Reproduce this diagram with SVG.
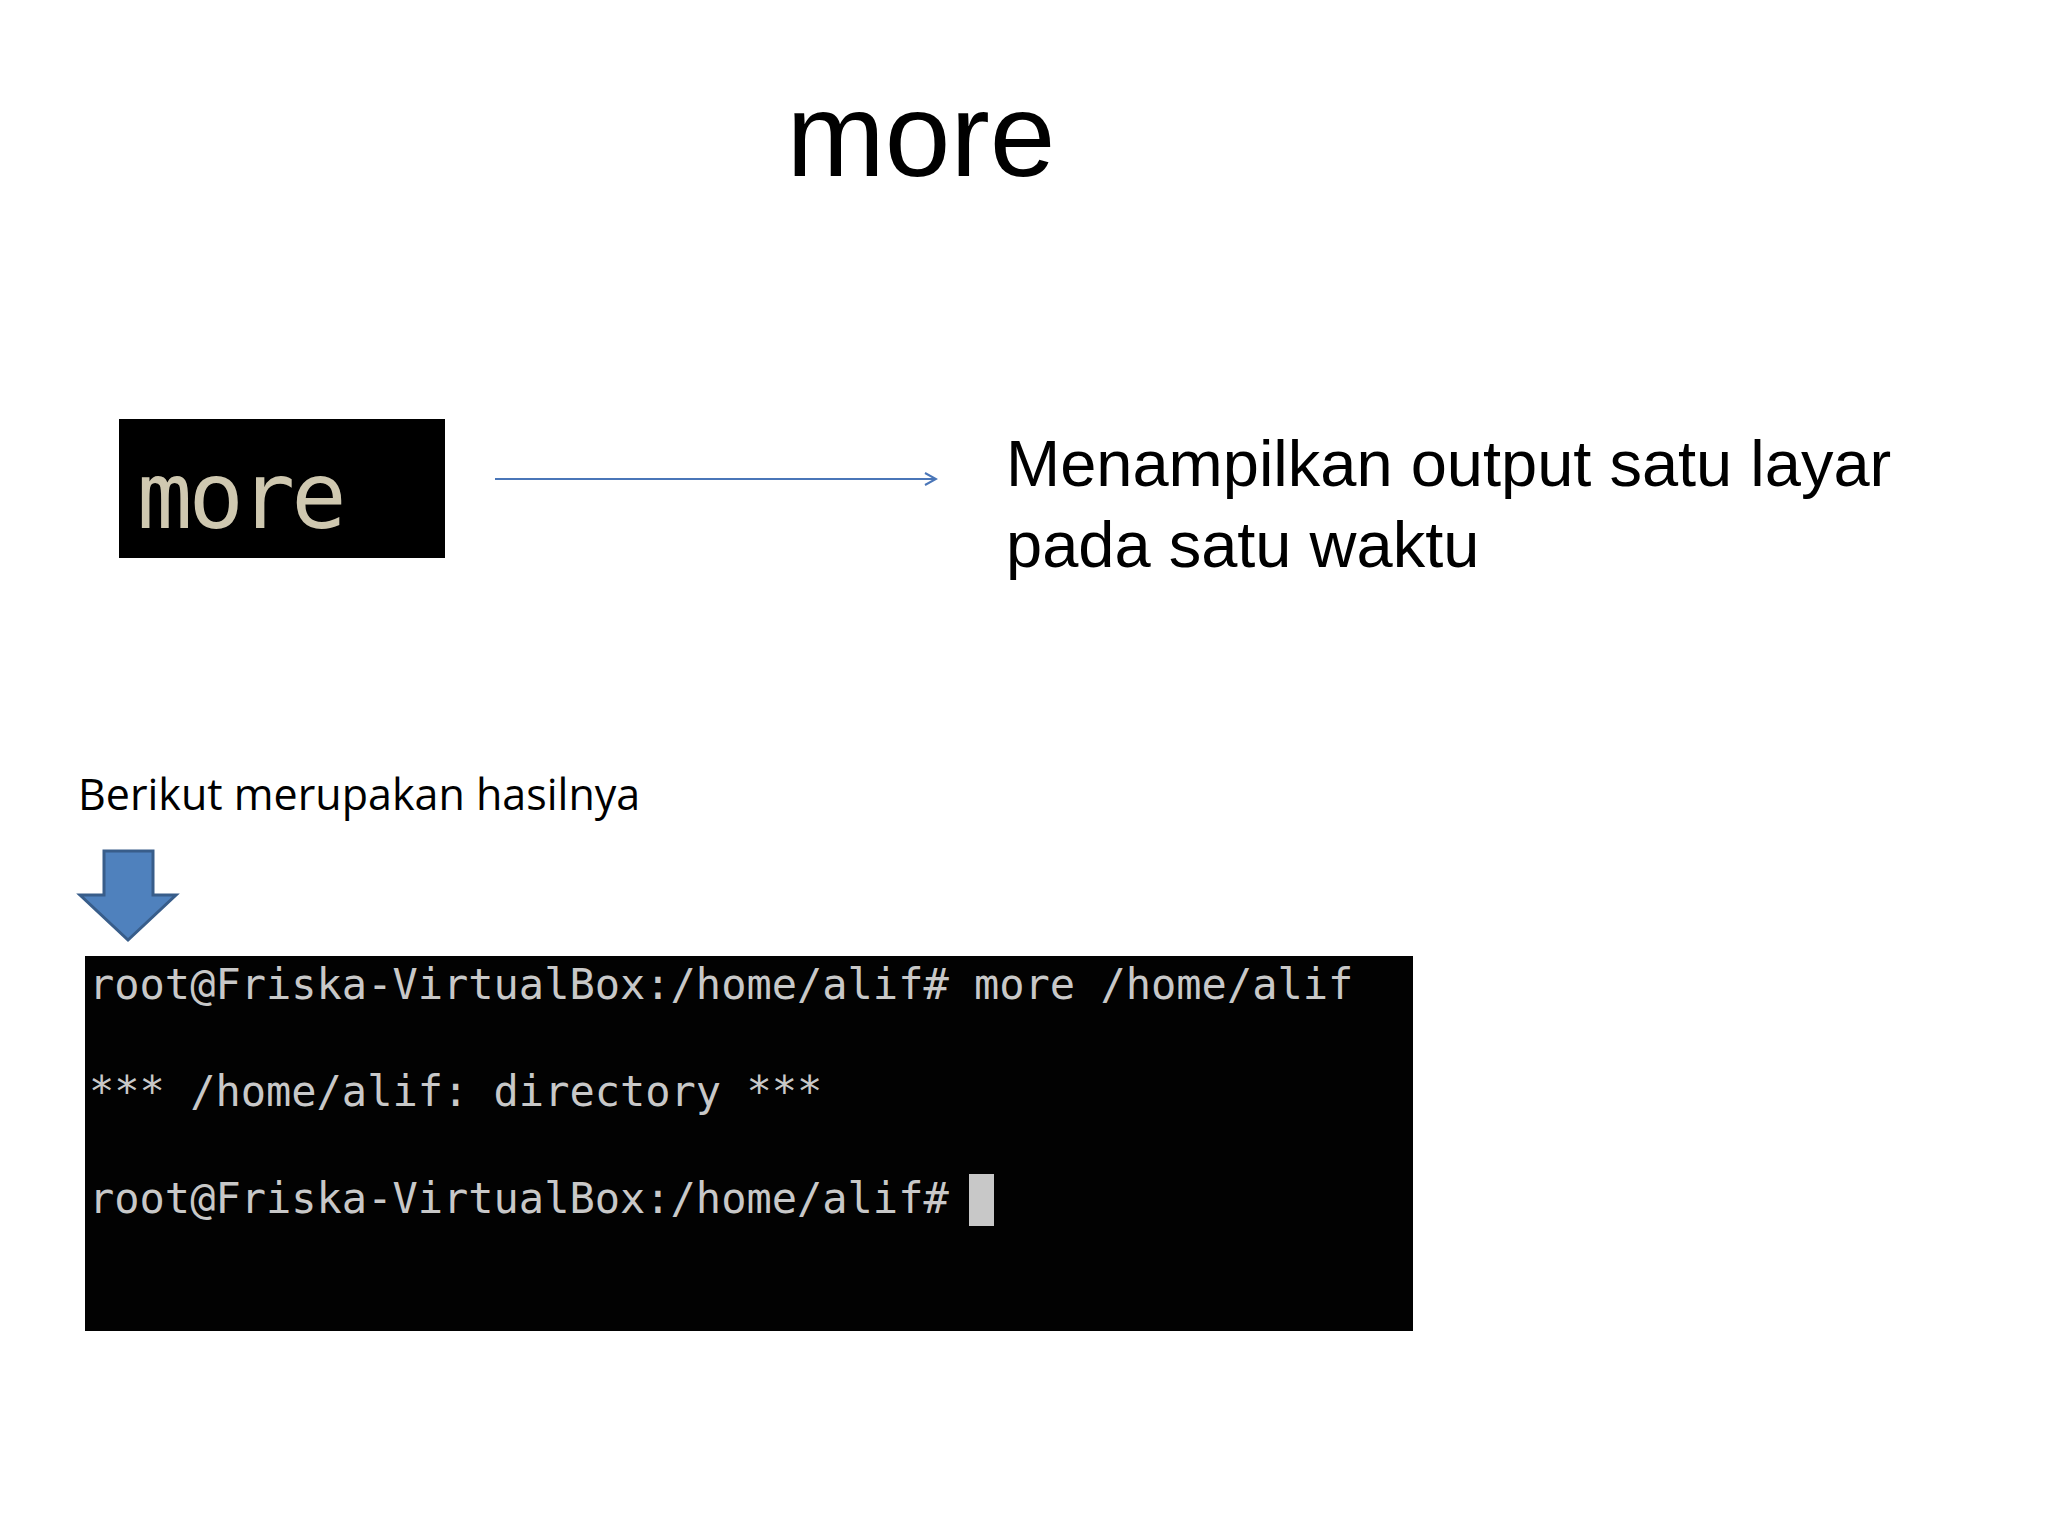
<svg xmlns="http://www.w3.org/2000/svg" width="2048" height="1536" viewBox="0 0 2048 1536">
<defs>
<style>
.sans{font-family:"Liberation Sans",Arial,sans-serif;fill:#000}
.term{font-family:"DejaVu Sans Mono","Liberation Mono",monospace;font-size:42px;fill:#c8c8c8}
</style>
<marker id="ah" markerWidth="14" markerHeight="14" refX="12" refY="7" orient="auto" markerUnits="userSpaceOnUse">
<path d="M1,1 L12,7 L1,13" fill="none" stroke="#4a76b8" stroke-width="2"/>
</marker>
</defs>
<rect width="2048" height="1536" fill="#fff"/>
<text class="sans" x="921" y="176" font-size="118" text-anchor="middle">more</text>
<g id="cmd">
<rect x="119" y="419" width="326" height="139" fill="#000"/>
<text x="137" y="528" font-family="DejaVu Sans Mono,monospace" font-size="92" fill="#cfc8b0" letter-spacing="-4">more</text>
</g>
<g id="desc">
<text class="sans" x="1006" y="486" font-size="65">Menampilkan output satu layar</text>
<text class="sans" x="1006" y="567" font-size="65">pada satu waktu</text>
</g>
<g id="connectors">
<line x1="495" y1="479" x2="936" y2="479" stroke="#4a76b8" stroke-width="2" marker-end="url(#ah)"/>
</g>
<g id="label">
<text x="78" y="810" font-family="Open Sans,sans-serif" font-size="43" fill="#000">Berikut merupakan hasilnya</text>
</g>
<g id="downarrow">
<path d="M104,851 H153 V895 H176 L128,940 L80,895 H104 Z" fill="#4f81bd" stroke="#385d8a" stroke-width="3"/>
</g>
<g id="terminal">
<rect x="85" y="956" width="1328" height="375" fill="#020202"/>
<text class="term" x="89" y="999">root@Friska-VirtualBox:/home/alif# more /home/alif</text>
<text class="term" x="89" y="1106">*** /home/alif: directory ***</text>
<text class="term" x="89" y="1213">root@Friska-VirtualBox:/home/alif#</text>
<rect x="969" y="1174" width="25" height="52" fill="#c8c8c8"/>
</g>
</svg>
